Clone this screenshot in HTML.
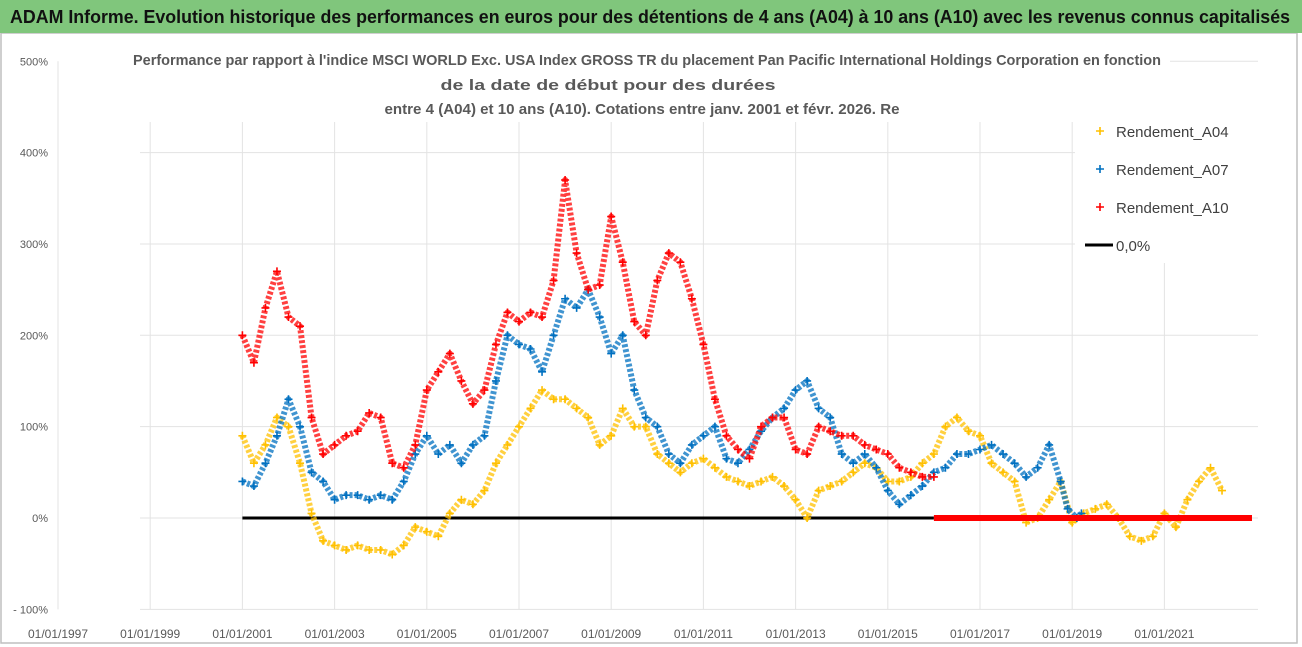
<!DOCTYPE html>
<html><head><meta charset="utf-8"><style>
html,body{margin:0;padding:0;background:#fff;}
svg{display:block;font-family:"Liberation Sans",sans-serif;}
</style></head><body>
<svg id="chart" width="1302" height="647" viewBox="0 0 1302 647">
<rect x="0" y="0" width="1302" height="647" fill="#fff"/>
<rect x="1" y="33" width="1296" height="610" fill="none" stroke="#bfbfbf" stroke-width="1.5"/>
<rect x="0" y="0" width="1302" height="33" fill="#80c67c"/>
<text x="10" y="23" font-size="18" font-weight="bold" fill="#111" textLength="1280" lengthAdjust="spacingAndGlyphs">ADAM Informe. Evolution historique des performances en euros pour des détentions de 4 ans (A04) à 10 ans (A10) avec les revenus connus capitalisés</text>
<g id="grid"></g>
<g id="axes"></g>
<g id="series"></g>
<rect x="130" y="42" width="1040" height="80" fill="#fff"/>
<g fill="#595959" font-size="15" font-weight="bold" text-anchor="middle">
<text x="647" y="65" textLength="1028" lengthAdjust="spacingAndGlyphs">Performance par rapport à l'indice MSCI WORLD Exc. USA Index GROSS TR  du placement Pan Pacific International Holdings Corporation en fonction</text>
<text x="608" y="90" textLength="335" lengthAdjust="spacingAndGlyphs">de la date de début pour des durées</text>
<text x="642" y="114" textLength="515" lengthAdjust="spacingAndGlyphs">entre 4 (A04) et 10 ans (A10). Cotations entre janv. 2001 et févr. 2026. Re</text>
</g>
<g id="legend"></g>
</svg>
<script>
const yTicks=[500,400,300,200,100,0,-100];
const yTickLabels=["500%","400%","300%","200%","100%","0%","- 100%"];
const xTicks=[1997,1999,2001,2003,2005,2007,2009,2011,2013,2015,2017,2019,2021];
const xTickLabels=["01/01/1997","01/01/1999","01/01/2001","01/01/2003","01/01/2005","01/01/2007","01/01/2009","01/01/2011","01/01/2013","01/01/2015","01/01/2017","01/01/2019","01/01/2021"];
const tA10=[2001,2001.25,2001.5,2001.75,2002,2002.25,2002.5,2002.75,2003,2003.25,2003.5,2003.75,2004,2004.25,2004.5,2004.75,2005,2005.25,2005.5,2005.75,2006,2006.25,2006.5,2006.75,2007,2007.25,2007.5,2007.75,2008,2008.25,2008.5,2008.75,2009,2009.25,2009.5,2009.75,2010,2010.25,2010.5,2010.75,2011,2011.25,2011.5,2011.75,2012,2012.25,2012.5,2012.75,2013,2013.25,2013.5,2013.75,2014,2014.25,2014.5,2014.75,2015,2015.25,2015.5,2015.75,2016];
const vA10=[200,170,230,270,220,210,110,70,80,90,95,115,110,60,55,80,140,160,180,150,125,140,190,225,215,225,220,260,370,290,250,255,330,280,215,200,260,290,280,240,190,130,90,75,65,100,110,110,75,70,100,95,90,90,80,75,70,55,50,45,45];
const tA10zero=[2016,2022.9];
const vA10zero=[0,0];
const tA07=[2001,2001.25,2001.5,2001.75,2002,2002.25,2002.5,2002.75,2003,2003.25,2003.5,2003.75,2004,2004.25,2004.5,2004.75,2005,2005.25,2005.5,2005.75,2006,2006.25,2006.5,2006.75,2007,2007.25,2007.5,2007.75,2008,2008.25,2008.5,2008.75,2009,2009.25,2009.5,2009.75,2010,2010.25,2010.5,2010.75,2011,2011.25,2011.5,2011.75,2012,2012.25,2012.5,2012.75,2013,2013.25,2013.5,2013.75,2014,2014.25,2014.5,2014.75,2015,2015.25,2015.5,2015.75,2016,2016.25,2016.5,2016.75,2017,2017.25,2017.5,2017.75,2018,2018.25,2018.5,2018.75,2018.9,2019.1,2019.2];
const vA07=[40,35,60,90,130,100,50,40,20,25,25,20,25,20,40,70,90,70,80,60,80,90,150,200,190,185,160,200,240,230,250,220,180,200,140,110,100,70,60,80,90,100,65,60,75,95,110,120,140,150,120,110,70,60,70,55,30,15,25,35,50,55,70,70,75,80,70,60,45,55,80,40,10,0,5];
const tA04=[2001,2001.25,2001.5,2001.75,2002,2002.25,2002.5,2002.75,2003,2003.25,2003.5,2003.75,2004,2004.25,2004.5,2004.75,2005,2005.25,2005.5,2005.75,2006,2006.25,2006.5,2006.75,2007,2007.25,2007.5,2007.75,2008,2008.25,2008.5,2008.75,2009,2009.25,2009.5,2009.75,2010,2010.25,2010.5,2010.75,2011,2011.25,2011.5,2011.75,2012,2012.25,2012.5,2012.75,2013,2013.25,2013.5,2013.75,2014,2014.25,2014.5,2014.75,2015,2015.25,2015.5,2015.75,2016,2016.25,2016.5,2016.75,2017,2017.25,2017.5,2017.75,2018,2018.25,2018.5,2018.75,2019,2019.25,2019.5,2019.75,2020,2020.25,2020.5,2020.75,2021,2021.25,2021.5,2021.75,2022,2022.25];
const vA04=[90,60,80,110,100,60,5,-25,-30,-35,-30,-35,-35,-40,-30,-10,-15,-20,5,20,15,30,60,80,100,120,140,130,130,120,110,80,90,120,100,100,70,60,50,60,65,55,45,40,35,40,45,35,20,0,30,35,40,50,60,55,40,40,45,60,70,100,110,95,90,60,50,40,-5,0,20,40,-5,5,10,15,0,-20,-25,-20,5,-10,20,40,55,30];
const tZero=[2001,2016];
const vZero=[0,0];

const NS="http://www.w3.org/2000/svg";
const X0=58,PX_YEAR=46.1,Y0=518,PX_PCT=0.9135;
const xs=t=>X0+(t-1997)*PX_YEAR;
const ys=v=>Y0-v*PX_PCT;
function mk(tag,attrs,parent){const e=document.createElementNS(NS,tag);for(const k in attrs)e.setAttribute(k,attrs[k]);parent.appendChild(e);return e;}
const grid=document.getElementById('grid'),axes=document.getElementById('axes'),ser=document.getElementById('series'),leg=document.getElementById('legend');

yTicks.forEach((v,i)=>{
  const l=mk('line',{x1:140,x2:1258,y1:ys(v),y2:ys(v),stroke:'#e3e3e3','stroke-width':1},grid);
  
  
  const t=mk('text',{x:48,y:ys(v)+4,'font-size':11,fill:'#595959','text-anchor':'end'},axes);
  t.textContent=yTickLabels[i];
  
  
});
xTicks.forEach((y,i)=>{
  const l=mk('line',{x1:xs(y),x2:xs(y),y1:ys(500),y2:ys(-100),stroke:'#e3e3e3','stroke-width':1},grid);
  
  
  const t=mk('text',{x:xs(y),y:638,'font-size':12,fill:'#595959','text-anchor':'middle'},axes);
  t.textContent=xTickLabels[i];
  
  
});

function plus(g,x,y,c,s){mk('path',{d:`M${x-s} ${y}H${x+s}M${x} ${y-s}V${y+s}`,stroke:c,'stroke-width':1.6,fill:'none'},g);}
function drawSeries(ts,vs,color,name){
  const g=mk('g',{},ser);
  
  
  const pts=ts.map((t,i)=>xs(t)+','+ys(vs[i])).join(' ');
  mk('polyline',{points:pts,fill:'none',stroke:color,'stroke-width':6,'stroke-opacity':0.75,'stroke-dasharray':'3 2','stroke-linejoin':'round'},g);
  ts.forEach((t,i)=>plus(g,xs(t),ys(vs[i]),color,4));
}
const zl=mk('line',{x1:xs(tZero[0]),x2:xs(tZero[1]),y1:ys(vZero[0]),y2:ys(vZero[1]),stroke:'#000','stroke-width':3},ser);


drawSeries(tA04,vA04,'#ffc000','series-a04');
drawSeries(tA07,vA07,'#0070c0','series-a07');
drawSeries(tA10,vA10,'#ff0000','series-a10');
const rz=mk('line',{x1:xs(tA10zero[0]),x2:xs(tA10zero[1]),y1:ys(vA10zero[0]),y2:ys(vA10zero[1]),stroke:'#ff0000','stroke-width':6},ser);



mk('rect',{x:1075,y:115,width:185,height:148,fill:'#fff'},leg);
const entries=[["Rendement_A04",'#ffc000',131],["Rendement_A07",'#0070c0',169],["Rendement_A10",'#ff0000',207]];
entries.forEach(e=>{
  const g=mk('g',{},leg);
  
  
  plus(g,1100,e[2],e[1],4);
  const t=mk('text',{x:1116,y:e[2]+6,'font-size':15,fill:'#404040'},g);t.textContent=e[0];
});
const g0=mk('g',{},leg);


mk('line',{x1:1085,x2:1113,y1:245,y2:245,stroke:'#000','stroke-width':3},g0);
const t0=mk('text',{x:1116,y:251,'font-size':15,fill:'#404040'},g0);t0.textContent="0,0%";
</script>
</body></html>
